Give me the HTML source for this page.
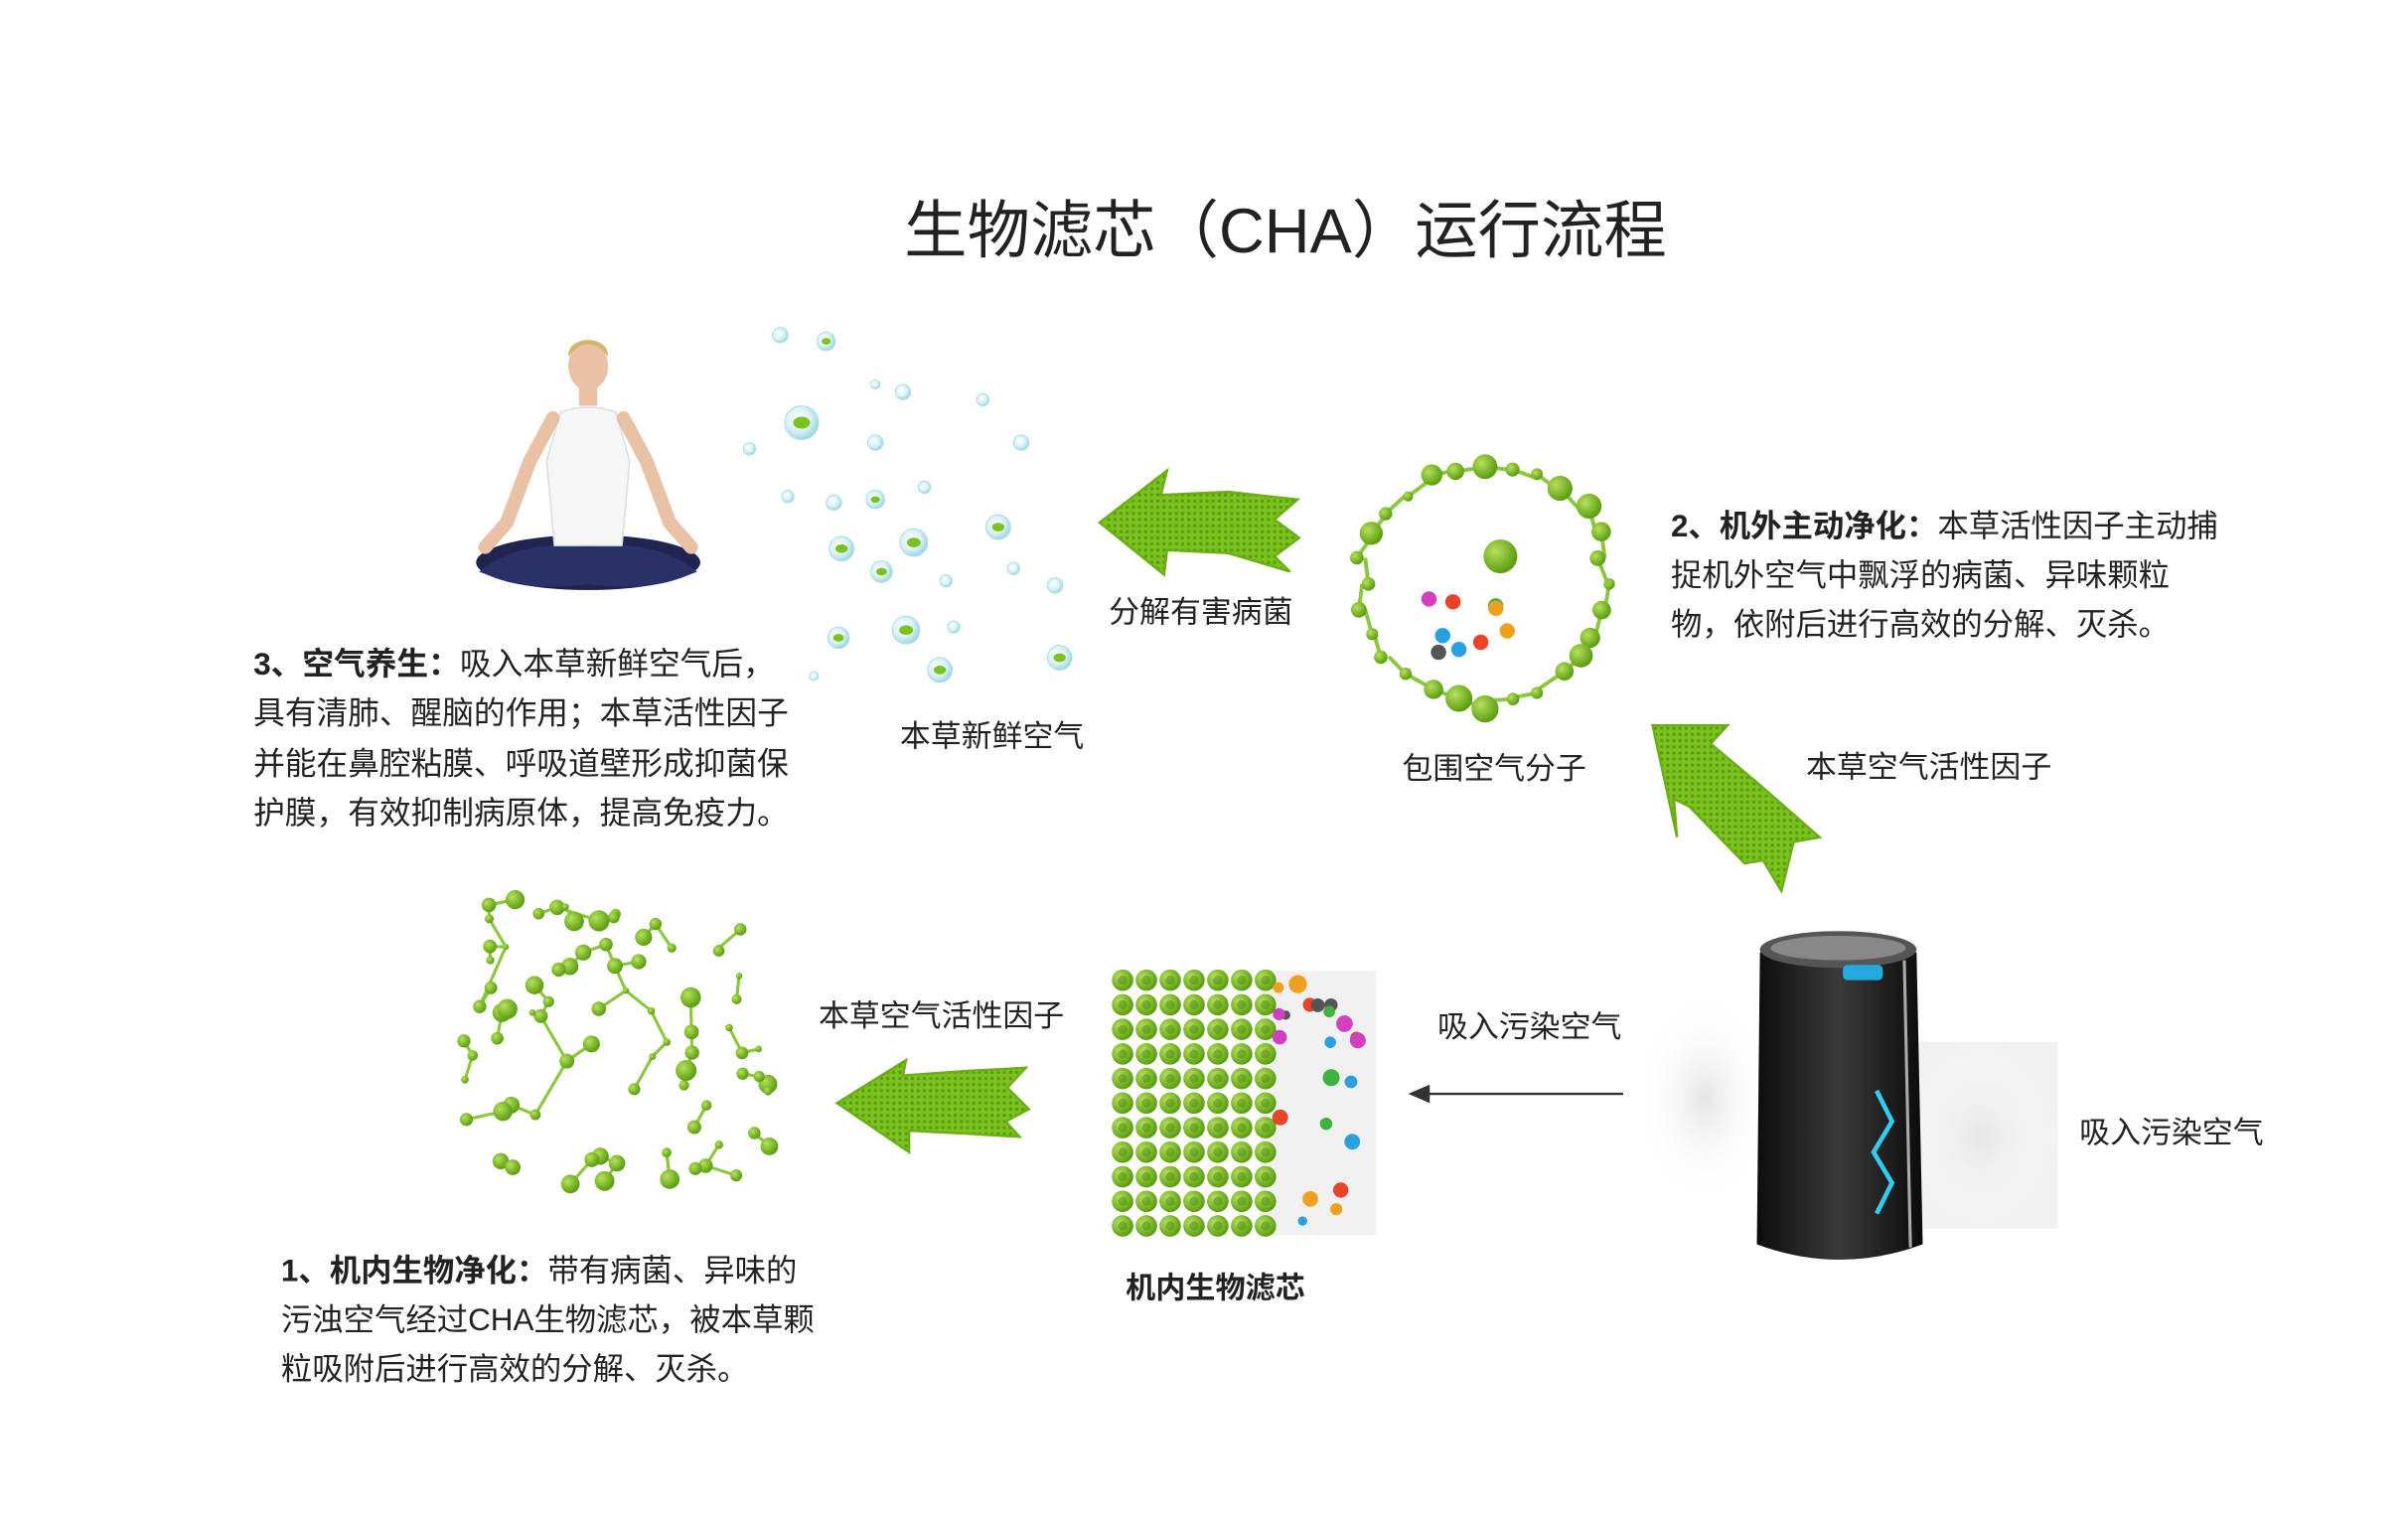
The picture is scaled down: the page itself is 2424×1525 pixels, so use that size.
<!DOCTYPE html>
<html><head><meta charset="utf-8">
<style>
html,body{margin:0;padding:0;background:#fff;}
svg{display:block;}
text{font-family:"Liberation Sans","Noto Sans CJK SC",sans-serif;fill:#222;}
</style></head>
<body>
<svg id="s" width="2424" height="1525" viewBox="0 0 1568 986" xmlns="http://www.w3.org/2000/svg">
<defs>
<pattern id="mesh" width="4" height="4" patternUnits="userSpaceOnUse">
<rect width="4" height="4" fill="#7cc21e"/><circle cx="2" cy="2" r="1.1" fill="#5a9a10"/>
</pattern>
<radialGradient id="ball" cx="35%" cy="35%" r="65%"><stop offset="0" stop-color="#b6e05a"/><stop offset="1" stop-color="#5c9e12"/></radialGradient>
<radialGradient id="bub" cx="40%" cy="40%" r="60%"><stop offset="0" stop-color="#ffffff"/><stop offset="0.6" stop-color="#d9f1f5"/><stop offset="1" stop-color="#9fd8e2"/></radialGradient>
<radialGradient id="haze" cx="50%" cy="50%" r="50%"><stop offset="0" stop-color="#e6e6e6"/><stop offset="1" stop-color="#ffffff" stop-opacity="0"/></radialGradient>
<linearGradient id="body" x1="0" x2="1"><stop offset="0" stop-color="#0d0d0d"/><stop offset="0.5" stop-color="#3a3a3a"/><stop offset="1" stop-color="#0b0b0b"/></linearGradient>
</defs>

<text x="837" y="164" font-size="41" text-anchor="middle" fill="#333">生物滤芯（CHA）运行流程</text>

<g>
<ellipse cx="383" cy="366" rx="73" ry="18" fill="#1f2550"/>
<path d="M312 372 Q340 350 383 356 Q426 350 454 372 Q420 386 383 380 Q346 386 312 372Z" fill="#2a3166"/>
<path d="M365 268 Q383 262 401 268 L410 300 L405 355 L361 355 L356 300Z" fill="#f6f6f6" stroke="#ddd"/>
<path d="M360 272 L345 300 L330 340 L316 356" stroke="#e8c1a6" stroke-width="9" fill="none" stroke-linecap="round"/>
<path d="M406 272 L421 300 L436 340 L450 356" stroke="#e8c1a6" stroke-width="9" fill="none" stroke-linecap="round"/>
<rect x="377" y="248" width="12" height="16" fill="#e8c1a6"/>
<ellipse cx="383" cy="238" rx="13" ry="16" fill="#e8c1a6"/>
<path d="M370 232 Q383 216 396 232 Q396 222 383 221 Q370 222 370 232Z" fill="#d9b56c"/>
</g>

<g id="bubbles"></g>

<path d="M716 340 L760 306 L756 322 L800 320 L845 325 L830 338 L846 350 L830 362 L840 372 L800 360 L760 358 L758 374Z" fill="url(#mesh)" stroke="#6aad14" stroke-width="1.5"/>
<text x="722" y="405" font-size="20">分解有害病菌</text>
<text x="586" y="486" font-size="20">本草新鲜空气</text>

<g id="mol1"></g>
<text x="913" y="507" font-size="20">包围空气分子</text>

<path d="M1076 472 L1125 472 L1114 484 L1145 510 L1185 545 L1168 548 L1160 580 L1148 560 L1136 562 L1100 525 L1090 520 L1092 545Z" fill="url(#mesh)" stroke="#6aad14" stroke-width="1.5"/>
<text x="1176" y="506" font-size="20">本草空气活性因子</text>

<text font-size="20.3"><tspan x="1088" y="349"><tspan font-weight="bold">2、机外主动净化：</tspan>本草活性因子主动捕</tspan><tspan x="1088" y="381">捉机外空气中飘浮的病菌、异味颗粒</tspan><tspan x="1088" y="413">物，依附后进行高效的分解、灭杀。</tspan></text>

<text font-size="20.5"><tspan x="165" y="439"><tspan font-weight="bold">3、空气养生：</tspan>吸入本草新鲜空气后，</tspan><tspan x="165" y="471">具有清肺、醒脑的作用；本草活性因子</tspan><tspan x="165" y="504">并能在鼻腔粘膜、呼吸道壁形成抑菌保</tspan><tspan x="165" y="536">护膜，有效抑制病原体，提高免疫力。</tspan></text>

<g id="mol2"></g>
<text x="533" y="668" font-size="20">本草空气活性因子</text>
<path d="M545 718 L590 690 L588 700 L630 697 L668 695 L656 708 L670 722 L655 730 L664 740 L630 738 L592 736 L592 750Z" fill="url(#mesh)" stroke="#6aad14" stroke-width="1.5"/>

<rect x="820" y="632" width="76" height="172" fill="#f0f0f0"/>
<g id="grid"></g>
<text x="733" y="845" font-size="19.5" font-weight="bold">机内生物滤芯</text>

<text x="936" y="675" font-size="20">吸入污染空气</text>
<line x1="1057" y1="712" x2="928" y2="712" stroke="#333" stroke-width="1.5"/>
<path d="M917 712 L931 706 L931 718Z" fill="#333"/>

<ellipse cx="1110" cy="715" rx="45" ry="70" fill="url(#haze)"/>
<rect x="1250" y="678" width="90" height="122" fill="#f1f1f1"/>
<ellipse cx="1290" cy="740" rx="50" ry="65" fill="url(#haze)"/>
<path d="M1146 620 Q1195 600 1248 620 L1252 810 Q1198 830 1144 810Z" fill="url(#body)"/>
<ellipse cx="1197" cy="618" rx="51" ry="12" fill="#555"/>
<ellipse cx="1197" cy="617" rx="44" ry="8" fill="#888"/>
<path d="M1240 625 L1244 812" stroke="#aaa" stroke-width="2"/>
<rect x="1200" y="628" width="26" height="10" rx="3" fill="#2ad"/>
<path d="M1222 710 L1232 730 L1220 750 L1232 770 L1222 790" stroke="#3ce" stroke-width="3" fill="none"/>
<text x="1354" y="744" font-size="20">吸入污染空气</text>

<text font-size="20.3"><tspan x="183" y="834"><tspan font-weight="bold">1、机内生物净化：</tspan>带有病菌、异味的</tspan><tspan x="183" y="866">污浊空气经过CHA生物滤芯，被本草颗</tspan><tspan x="183" y="898">粒吸附后进行高效的分解、灭杀。</tspan></text>
</svg>
<script>
var NS="http://www.w3.org/2000/svg";
var seed=7;function r(){seed=(seed*9301+49297)%233280;return seed/233280;}
function el(p,t,a){var e=document.createElementNS(NS,t);for(var k in a)e.setAttribute(k,a[k]);p.appendChild(e);return e;}
var b=document.getElementById("bubbles");
var bp=[[508,218,5],[538,222,6],[588,255,5],[522,275,11],[640,260,4],[570,288,5],[665,288,5],[488,292,4],[513,323,4],[543,327,5],[570,325,6],[602,317,4],[650,343,8],[548,357,8],[595,353,9],[574,372,7],[616,378,4],[660,370,4],[687,381,5],[546,415,7],[590,410,9],[621,408,4],[612,436,8],[690,428,8],[570,250,3],[530,440,3]];
bp.forEach(function(p){el(b,"circle",{cx:p[0],cy:p[1],r:p[2],fill:"url(#bub)",stroke:"#a8dce6","stroke-width":0.6});if(p[2]>5)el(b,"ellipse",{cx:p[0],cy:p[1],rx:p[2]*0.5,ry:p[2]*0.35,fill:"#7cc21e"});});
function mol(g,cx,cy,w,h,n,rmax){var pts=[];for(var i=0;i<n;i++){pts.push([cx+(r()-0.5)*w,cy+(r()-0.5)*h,2+r()*rmax]);}
for(var i=0;i<n;i++){var best=-1,bd=1e9;for(var j=0;j<n;j++){if(j==i)continue;var d=Math.hypot(pts[i][0]-pts[j][0],pts[i][1]-pts[j][1]);if(d<bd){bd=d;best=j;}}
el(g,"line",{x1:pts[i][0],y1:pts[i][1],x2:pts[best][0],y2:pts[best][1],stroke:"#8cc63f","stroke-width":2});
var k=Math.floor(r()*n);var d2=Math.hypot(pts[i][0]-pts[k][0],pts[i][1]-pts[k][1]);if(d2<45)el(g,"line",{x1:pts[i][0],y1:pts[i][1],x2:pts[k][0],y2:pts[k][1],stroke:"#8cc63f","stroke-width":2});}
pts.forEach(function(p){el(g,"circle",{cx:p[0],cy:p[1],r:p[2],fill:"url(#ball)"});});}
var m1=document.getElementById("mol1");
for(var a=0;a<28;a++){var t=a/28*Math.PI*2;var x=967+Math.cos(t)*(75+r()*12),y=380+Math.sin(t)*(72+r()*10);var t2=(a+1)/28*Math.PI*2;el(m1,"line",{x1:x,y1:y,x2:967+Math.cos(t2)*80,y2:380+Math.sin(t2)*76,stroke:"#8cc63f","stroke-width":2.5});el(m1,"circle",{cx:x,cy:y,r:3+r()*6,fill:"url(#ball)"});}
el(m1,"circle",{cx:977,cy:362,r:11,fill:"url(#ball)"});
var cols=["#e8442a","#f0a020","#2aa0e0","#d040c0","#40b040","#555"];
for(var i=0;i<9;i++)el(m1,"circle",{cx:930+r()*75,cy:370+r()*55,r:5,fill:cols[i%6]});
mol(document.getElementById("mol2"),402,680,200,190,80,5);
var gr=document.getElementById("grid");
for(var c=0;c<7;c++)for(var rr=0;rr<11;rr++){el(gr,"circle",{cx:731+c*15.5,cy:638+rr*16,r:7,fill:"url(#ball)"});el(gr,"circle",{cx:731+c*15.5,cy:638+rr*16,r:3,fill:"#4a8a10",opacity:0.5});}
for(var i=0;i<22;i++)el(gr,"circle",{cx:832+r()*55,cy:640+r()*155,r:3+r()*3,fill:cols[i%6]});
</script>
</body></html>
